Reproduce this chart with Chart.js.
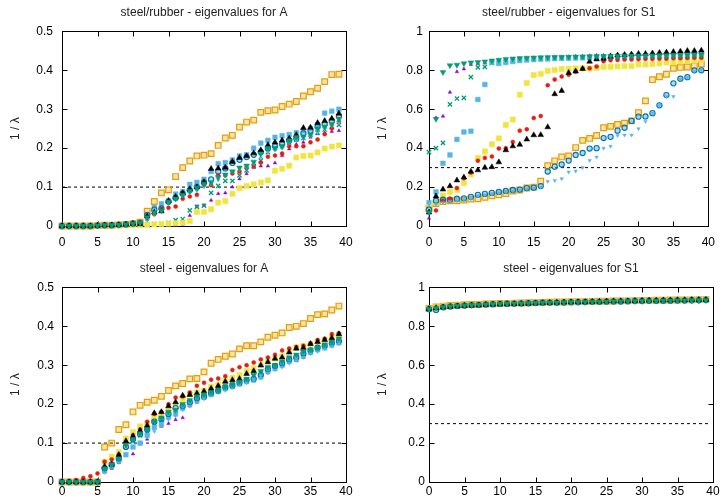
<!DOCTYPE html>
<html>
<head>
<meta charset="utf-8">
<script src="https://cdn.jsdelivr.net/npm/chart.js@4"></script>
<style>
  body { margin: 0; background: #fff; }
  #painel { position: relative; width: 724px; height: 500px; }
  canvas { position: absolute; }
</style>
</head>
<body>
<div id="painel">
  <canvas id="rubA" width="362" height="250" style="left:0;top:0"></canvas>
  <canvas id="rubS1" width="362" height="250" style="left:362px;top:0"></canvas>
  <canvas id="steelA" width="362" height="244" style="left:0;top:256px"></canvas>
  <canvas id="steelS1" width="362" height="244" style="left:362px;top:256px"></canvas>
</div>
<script>
// --- Dados ---
// Eixo x: índice do autovalor 0..39
const indices = Array.from({ length: 40 }, (_, i) => i);
const ticksX = [0, 5, 10, 15, 20, 25, 30, 35, 40];
const ticksA = [0, 0.1, 0.2, 0.3, 0.4, 0.5];
const ticksS1 = [0, 0.2, 0.4, 0.6, 0.8, 1];
const limiteA = 0.1;
const limiteS1 = 0.3;
const limiteX = [0, 39.5];

// steel/rubber - A
const rubA_roxo = [0,0,0,0,0,0.001,0.001,0.002,0.002,0.002,0.003,0.003,0.003,0.003,0.003,0.004,0.004,0.004,0.027,0.05,0.053,0.066,0.083,0.085,0.1,0.121,0.134,0.15,0.154,0.154,0.162,0.181,0.198,0.21,0.215,0.228,0.237,0.239,0.243,0.245];
const rubA_verdeX = [0,0,0,0,0,0.001,0.001,0.002,0.002,0.003,0.004,0.004,0.004,0.005,0.005,0.008,0.015,0.018,0.04,0.049,0.052,0.085,0.103,0.116,0.116,0.13,0.143,0.154,0.168,0.19,0.2,0.205,0.215,0.222,0.226,0.235,0.24,0.248,0.255,0.26];
const rubA_celeste = [0,0,0,0,0,0.001,0.002,0.002,0.003,0.004,0.006,0.008,0.03,0.05,0.057,0.065,0.082,0.088,0.107,0.112,0.12,0.14,0.16,0.163,0.17,0.18,0.183,0.2,0.213,0.22,0.228,0.232,0.235,0.24,0.245,0.25,0.26,0.29,0.295,0.3];
const rubA_laranja = [0,0,0,0,0,0.001,0.002,0.002,0.003,0.004,0.006,0.01,0.038,0.063,0.085,0.093,0.127,0.15,0.167,0.18,0.182,0.186,0.207,0.226,0.233,0.254,0.267,0.272,0.292,0.296,0.298,0.307,0.313,0.32,0.334,0.345,0.354,0.371,0.389,0.39];
const rubA_amarelo = [0,0,0,0,0,0,0.001,0.001,0.001,0.002,0.002,0.002,0.003,0.004,0.005,0.006,0.007,0.008,0.013,0.036,0.036,0.043,0.06,0.064,0.083,0.097,0.103,0.107,0.112,0.117,0.142,0.147,0.155,0.176,0.18,0.181,0.189,0.199,0.204,0.207];
const rubA_azul = [0,0,0,0,0,0.001,0.002,0.002,0.003,0.004,0.006,0.008,0.028,0.042,0.045,0.062,0.072,0.083,0.092,0.1,0.112,0.12,0.14,0.148,0.162,0.17,0.177,0.183,0.19,0.2,0.205,0.21,0.22,0.225,0.238,0.245,0.255,0.262,0.27,0.282];
const rubA_vermelho = [0,0,0,0,0,0.001,0.002,0.002,0.003,0.004,0.006,0.008,0.018,0.03,0.045,0.047,0.05,0.07,0.076,0.08,0.105,0.105,0.13,0.13,0.135,0.14,0.15,0.155,0.163,0.178,0.181,0.186,0.205,0.205,0.205,0.215,0.222,0.236,0.251,0.268];
const rubA_preto = [0,0,0,0,0,0.001,0.002,0.002,0.003,0.004,0.006,0.005,0.025,0.035,0.038,0.065,0.075,0.085,0.095,0.1,0.113,0.147,0.148,0.15,0.165,0.175,0.18,0.187,0.195,0.208,0.215,0.22,0.225,0.234,0.252,0.253,0.265,0.27,0.276,0.289];
const rubA_claro = [0,0,0,0,0,0.001,0.002,0.002,0.003,0.004,0.005,0.007,0.015,0.03,0.04,0.06,0.07,0.078,0.085,0.09,0.1,0.108,0.118,0.13,0.14,0.145,0.15,0.16,0.175,0.19,0.195,0.2,0.215,0.22,0.225,0.23,0.24,0.25,0.258,0.265];
const rubA_verde = [0,0,0,0,0,0.001,0.002,0.002,0.003,0.004,0.006,0.008,0.022,0.035,0.04,0.062,0.07,0.08,0.09,0.098,0.108,0.112,0.125,0.132,0.14,0.15,0.155,0.165,0.185,0.2,0.2,0.205,0.22,0.228,0.23,0.235,0.25,0.255,0.262,0.275];

// steel/rubber - S1
const rubS1_roxo = [0.04,0.556,0.564,0.687,0.793,0.807,0.83,0.835,0.84,0.845,0.85,0.853,0.857,0.86,0.862,0.864,0.866,0.867,0.868,0.869,0.87,0.872,0.873,0.875,0.877,0.878,0.88,0.881,0.883,0.885,0.886,0.887,0.888,0.89,0.891,0.893,0.895,0.897,0.898,0.9];
const rubS1_verdeX = [0.38,0.4,0.427,0.625,0.655,0.658,0.765,0.815,0.818,0.838,0.84,0.845,0.85,0.855,0.858,0.86,0.862,0.863,0.864,0.865,0.866,0.867,0.868,0.869,0.87,0.871,0.872,0.873,0.874,0.875,0.876,0.876,0.877,0.878,0.878,0.879,0.88,0.88,0.881,0.882];
const rubS1_celeste = [0.12,0.175,0.322,0.365,0.445,0.483,0.487,0.65,0.727,0.84,0.835,0.84,0.845,0.85,0.853,0.855,0.857,0.858,0.86,0.861,0.862,0.863,0.864,0.865,0.866,0.867,0.868,0.869,0.87,0.87,0.871,0.872,0.872,0.873,0.873,0.874,0.874,0.875,0.875,0.876];
const rubS1_laranja = [0.09,0.115,0.125,0.13,0.13,0.133,0.138,0.14,0.147,0.155,0.16,0.167,0.18,0.185,0.195,0.2,0.23,0.31,0.335,0.355,0.36,0.403,0.44,0.45,0.465,0.505,0.512,0.522,0.528,0.54,0.582,0.643,0.752,0.767,0.78,0.81,0.815,0.817,0.823,0.832];
const rubS1_amarelo = [0.1,0.12,0.157,0.175,0.185,0.22,0.265,0.35,0.383,0.42,0.45,0.52,0.547,0.675,0.735,0.775,0.782,0.797,0.802,0.807,0.808,0.81,0.81,0.81,0.812,0.818,0.818,0.82,0.822,0.822,0.83,0.83,0.832,0.835,0.84,0.84,0.845,0.85,0.85,0.855];
const rubS1_azul = [0.085,0.13,0.135,0.135,0.14,0.142,0.15,0.16,0.165,0.17,0.175,0.18,0.185,0.187,0.195,0.197,0.205,0.28,0.305,0.316,0.336,0.365,0.375,0.398,0.4,0.452,0.458,0.49,0.505,0.54,0.562,0.563,0.58,0.62,0.673,0.733,0.757,0.765,0.8,0.8];
const rubS1_vermelho = [0.07,0.08,0.13,0.14,0.195,0.245,0.275,0.335,0.35,0.357,0.398,0.4,0.432,0.49,0.497,0.555,0.565,0.723,0.753,0.768,0.777,0.793,0.808,0.81,0.82,0.847,0.852,0.853,0.855,0.855,0.857,0.858,0.858,0.86,0.86,0.862,0.862,0.863,0.864,0.865];
const rubS1_preto = [0.07,0.153,0.188,0.205,0.235,0.25,0.28,0.287,0.3,0.303,0.328,0.39,0.41,0.418,0.445,0.467,0.468,0.508,0.678,0.695,0.787,0.795,0.808,0.845,0.857,0.86,0.87,0.877,0.88,0.882,0.885,0.885,0.888,0.89,0.892,0.895,0.897,0.9,0.9,0.902];
const rubS1_claro = [0.11,0.11,0.12,0.125,0.13,0.135,0.14,0.155,0.16,0.165,0.17,0.175,0.18,0.185,0.19,0.195,0.2,0.229,0.234,0.243,0.277,0.282,0.3,0.337,0.354,0.4,0.41,0.465,0.467,0.467,0.5,0.537,0.58,0.62,0.665,0.665,0.755,0.765,0.795,0.8];
const rubS1_verde = [0.07,0.55,0.79,0.825,0.828,0.835,0.84,0.842,0.845,0.85,0.853,0.857,0.86,0.862,0.864,0.865,0.866,0.867,0.868,0.868,0.869,0.87,0.87,0.871,0.872,0.872,0.873,0.873,0.874,0.875,0.875,0.876,0.876,0.877,0.877,0.878,0.878,0.879,0.879,0.88];

// steel - A
const steelA_roxo = [0,0,0,0,0,0,0.025,0.035,0.05,0.07,0.072,0.098,0.11,0.14,0.143,0.15,0.16,0.165,0.195,0.205,0.215,0.225,0.23,0.24,0.245,0.252,0.258,0.265,0.27,0.28,0.29,0.3,0.307,0.312,0.32,0.33,0.34,0.343,0.35,0.355];
const steelA_verdeX = [0,0,0,0,0,0,0.03,0.045,0.06,0.09,0.105,0.12,0.13,0.15,0.16,0.175,0.185,0.198,0.205,0.215,0.222,0.23,0.237,0.245,0.25,0.258,0.263,0.272,0.28,0.292,0.3,0.307,0.317,0.323,0.332,0.338,0.344,0.35,0.357,0.365];
const steelA_celeste = [0,0,0,0,0,0,0.03,0.04,0.055,0.07,0.09,0.1,0.12,0.14,0.148,0.167,0.175,0.19,0.2,0.21,0.218,0.225,0.233,0.24,0.245,0.252,0.258,0.262,0.27,0.285,0.292,0.3,0.31,0.315,0.325,0.333,0.34,0.345,0.352,0.358];
const steelA_laranja = [0,0,0,0,0,0,0.09,0.1,0.135,0.147,0.18,0.197,0.205,0.21,0.22,0.235,0.247,0.253,0.265,0.266,0.283,0.305,0.315,0.323,0.329,0.342,0.35,0.35,0.36,0.372,0.377,0.383,0.397,0.4,0.407,0.42,0.43,0.432,0.442,0.452];
const steelA_amarelo = [0,0,0,0,0,0,0.052,0.065,0.077,0.112,0.128,0.143,0.15,0.165,0.175,0.185,0.2,0.212,0.225,0.23,0.235,0.245,0.25,0.26,0.268,0.275,0.285,0.292,0.3,0.31,0.317,0.323,0.335,0.346,0.35,0.354,0.36,0.365,0.372,0.378];
const steelA_azul = [0,0,0,0,0,0,0.035,0.045,0.06,0.09,0.11,0.123,0.135,0.155,0.162,0.175,0.19,0.195,0.205,0.215,0.22,0.228,0.235,0.243,0.248,0.255,0.262,0.265,0.275,0.29,0.298,0.305,0.315,0.32,0.33,0.338,0.345,0.35,0.357,0.362];
const steelA_vermelho = [0,0,0.005,0.01,0.015,0.022,0.052,0.058,0.07,0.1,0.12,0.135,0.155,0.175,0.18,0.2,0.217,0.22,0.23,0.247,0.255,0.263,0.266,0.272,0.288,0.295,0.3,0.307,0.315,0.32,0.327,0.338,0.343,0.347,0.35,0.356,0.365,0.368,0.38,0.382];
const steelA_preto = [0,0,0,0,0,0,0.04,0.045,0.07,0.105,0.118,0.132,0.145,0.177,0.18,0.195,0.205,0.222,0.224,0.228,0.233,0.24,0.247,0.258,0.262,0.265,0.278,0.285,0.3,0.308,0.317,0.32,0.333,0.343,0.345,0.355,0.36,0.365,0.37,0.38];
const steelA_claro = [0,0,0,0,0,0,0.025,0.04,0.05,0.07,0.09,0.1,0.115,0.13,0.145,0.16,0.17,0.185,0.195,0.205,0.213,0.222,0.23,0.235,0.243,0.25,0.255,0.26,0.267,0.28,0.288,0.295,0.305,0.312,0.32,0.33,0.335,0.342,0.348,0.355];
const steelA_verde = [0,0,0,0,0,0,0.035,0.045,0.06,0.095,0.11,0.125,0.135,0.155,0.165,0.18,0.185,0.2,0.21,0.22,0.225,0.23,0.235,0.245,0.25,0.258,0.265,0.275,0.285,0.295,0.3,0.31,0.32,0.327,0.335,0.34,0.345,0.353,0.36,0.368];

// steel - S1
const steelS1_roxo = [0.89,0.896,0.9,0.903,0.906,0.908,0.91,0.911,0.913,0.915,0.916,0.917,0.918,0.918,0.919,0.92,0.921,0.922,0.923,0.924,0.924,0.925,0.926,0.926,0.927,0.928,0.928,0.929,0.93,0.93,0.931,0.931,0.932,0.932,0.933,0.933,0.934,0.934,0.935,0.935];
const steelS1_verdeX = [0.89,0.895,0.9,0.903,0.905,0.907,0.909,0.911,0.913,0.914,0.916,0.917,0.918,0.918,0.919,0.92,0.921,0.922,0.923,0.923,0.924,0.925,0.925,0.926,0.927,0.927,0.928,0.929,0.929,0.93,0.93,0.931,0.931,0.932,0.932,0.933,0.933,0.934,0.934,0.935];
const steelS1_celeste = [0.888,0.893,0.899,0.902,0.905,0.907,0.909,0.91,0.912,0.914,0.915,0.916,0.917,0.918,0.919,0.92,0.921,0.921,0.922,0.923,0.924,0.924,0.925,0.926,0.926,0.927,0.928,0.928,0.929,0.93,0.93,0.931,0.931,0.932,0.932,0.933,0.933,0.934,0.934,0.934];
const steelS1_laranja = [0.892,0.9,0.904,0.907,0.909,0.911,0.912,0.913,0.915,0.916,0.917,0.918,0.919,0.92,0.921,0.922,0.923,0.924,0.925,0.925,0.926,0.927,0.927,0.928,0.929,0.929,0.93,0.931,0.931,0.932,0.932,0.933,0.934,0.934,0.935,0.935,0.936,0.936,0.937,0.937];
const steelS1_amarelo = [0.891,0.898,0.902,0.905,0.908,0.91,0.911,0.912,0.914,0.915,0.916,0.917,0.918,0.919,0.92,0.921,0.922,0.923,0.924,0.924,0.925,0.926,0.926,0.927,0.928,0.928,0.929,0.93,0.93,0.931,0.931,0.932,0.933,0.933,0.934,0.934,0.935,0.935,0.936,0.936];
const steelS1_azul = [0.888,0.884,0.898,0.902,0.905,0.907,0.909,0.91,0.912,0.914,0.915,0.916,0.917,0.918,0.919,0.92,0.921,0.922,0.922,0.923,0.924,0.924,0.925,0.926,0.926,0.927,0.928,0.928,0.929,0.93,0.93,0.931,0.931,0.932,0.932,0.933,0.933,0.934,0.934,0.935];
const steelS1_vermelho = [0.89,0.896,0.9,0.903,0.906,0.908,0.91,0.911,0.913,0.915,0.916,0.917,0.918,0.919,0.92,0.921,0.922,0.922,0.923,0.924,0.925,0.925,0.926,0.927,0.927,0.928,0.929,0.929,0.93,0.931,0.931,0.932,0.932,0.933,0.933,0.934,0.934,0.935,0.935,0.936];
const steelS1_preto = [0.889,0.894,0.897,0.9,0.903,0.905,0.907,0.908,0.91,0.912,0.913,0.914,0.915,0.916,0.917,0.918,0.92,0.921,0.922,0.923,0.924,0.925,0.925,0.926,0.927,0.928,0.929,0.93,0.93,0.931,0.932,0.933,0.933,0.934,0.934,0.935,0.935,0.936,0.936,0.937];
const steelS1_claro = [0.887,0.89,0.897,0.901,0.904,0.906,0.908,0.91,0.911,0.913,0.914,0.915,0.916,0.917,0.918,0.919,0.92,0.921,0.922,0.923,0.923,0.924,0.925,0.925,0.926,0.927,0.927,0.928,0.929,0.929,0.93,0.93,0.931,0.931,0.932,0.932,0.933,0.933,0.934,0.934];
const steelS1_verde = [0.889,0.895,0.899,0.903,0.905,0.907,0.909,0.91,0.912,0.914,0.915,0.916,0.917,0.918,0.919,0.92,0.921,0.922,0.922,0.923,0.924,0.924,0.925,0.926,0.926,0.927,0.928,0.928,0.929,0.93,0.93,0.931,0.931,0.932,0.932,0.933,0.933,0.934,0.934,0.935];

// --- Estilo de cada série (cor e símbolo, na ordem do gnuplot) ---
const estilos = [
  { cor: '#9400D3', fundo: '#9400D3', simbolo: 'triangle', raio: 2, borda: 0.5, rot: 0 },
  { cor: '#009E73', fundo: 'rgba(0,0,0,0)', simbolo: 'crossRot', raio: 3, borda: 1.3, rot: 0 },
  { cor: '#56B4E9', fundo: '#56B4E9', simbolo: 'rect', raio: 3.3, borda: 0.5, rot: 0 },
  { cor: '#E69F00', fundo: 'rgba(230,159,0,0.3)', simbolo: 'rect', raio: 4, borda: 1.2, rot: 0 },
  { cor: '#F0E442', fundo: '#F0E442', simbolo: 'rect', raio: 3.7, borda: 0.5, rot: 0 },
  { cor: '#0072B2', fundo: 'rgba(86,180,233,0.5)', simbolo: 'circle', raio: 2.6, borda: 1.1, rot: 0 },
  { cor: '#E51E10', fundo: '#E51E10', simbolo: 'circle', raio: 2, borda: 0.5, rot: 0 },
  { cor: '#000000', fundo: '#000000', simbolo: 'triangle', raio: 3.3, borda: 0.5, rot: 0 },
  { cor: '#56B4E9', fundo: '#56B4E9', simbolo: 'triangle', raio: 2, borda: 0.5, rot: 180 },
  { cor: '#009E73', fundo: '#009E73', simbolo: 'triangle', raio: 3.3, borda: 0.5, rot: 180 }
];

const fonte = "'Liberation Sans', Arial, sans-serif";

// Plugin que desenha a moldura e os tracinhos internos (estilo gnuplot)
const molduraPlugin = {
  id: 'moldura',
  beforeDatasetsDraw(chart) {
    const { ctx, chartArea: a, scales: { x, y } } = chart;
    const L = Math.round(a.left) + 0.5, R = Math.round(a.right) + 0.5;
    const T = Math.round(a.top) + 0.5, B = Math.round(a.bottom) + 0.5;
    ctx.save();
    ctx.strokeStyle = '#000';
    ctx.lineWidth = 1;
    ctx.strokeRect(L, T, R - L, B - T);
    ctx.beginPath();
    x.ticks.forEach(t => {
      const px = Math.round(x.getPixelForValue(t.value)) + 0.5;
      ctx.moveTo(px, B); ctx.lineTo(px, B - 5);
      ctx.moveTo(px, T); ctx.lineTo(px, T + 5);
    });
    y.ticks.forEach(t => {
      const py = Math.round(y.getPixelForValue(t.value)) + 0.5;
      ctx.moveTo(L, py); ctx.lineTo(L + 5, py);
      ctx.moveTo(R, py); ctx.lineTo(R - 5, py);
    });
    ctx.stroke();
    ctx.restore();
  }
};

/**
 * Cria um dos quatro painéis.
 */
function criarGrafico(id, titulo, series, ticksY, limite, cfg) {
  const datasets = series.map((valores, i) => ({
    label: 'serie ' + (i + 1),
    data: indices.map(k => ({ x: k, y: valores[k] })),
    showLine: false,
    pointStyle: estilos[i].simbolo,
    pointRadius: estilos[i].raio,
    pointRotation: estilos[i].rot,
    pointBorderWidth: estilos[i].borda,
    borderColor: estilos[i].cor,
    backgroundColor: estilos[i].fundo,
    pointBorderColor: estilos[i].cor,
    pointBackgroundColor: estilos[i].fundo,
    order: series.length - i,
    clip: false
  }));

  // linha tracejada de referência
  datasets.push({
    type: 'line',
    label: 'limite',
    data: limiteX.map(v => ({ x: v, y: limite })),
    borderColor: '#000',
    borderWidth: 1,
    borderDash: [3, 3],
    pointRadius: 0,
    order: 20
  });

  return new Chart(document.getElementById(id), {
    type: 'scatter',
    data: { datasets },
    options: {
      responsive: false,
      animation: false,
      layout: { padding: { left: 0, right: cfg.direita, top: 0, bottom: 0 } },
      plugins: {
        legend: { display: false },
        tooltip: { enabled: false },
        title: {
          display: true,
          text: titulo,
          fullSize: false,
          color: '#222',
          font: { family: fonte, size: 12, weight: 'normal' },
          padding: { top: 5, bottom: 12 }
        }
      },
      scales: {
        x: {
          type: 'linear',
          min: ticksX[0],
          max: ticksX[ticksX.length - 1],
          afterBuildTicks: s => { s.ticks = ticksX.map(v => ({ value: v })); },
          afterFit: s => { s.height = cfg.alturaX; },
          grid: { display: false, drawTicks: false },
          border: { display: false },
          ticks: { color: '#000', padding: cfg.padX, font: { family: fonte, size: 12 }, callback: v => String(v) }
        },
        y: {
          min: ticksY[0],
          max: ticksY[ticksY.length - 1],
          afterBuildTicks: s => { s.ticks = ticksY.map(v => ({ value: v })); },
          afterFit: s => { s.width = cfg.larguraY; },
          grid: { display: false, drawTicks: false },
          border: { display: false },
          ticks: { color: '#000', padding: cfg.padY, font: { family: fonte, size: 12 }, callback: v => String(+v.toFixed(1)) },
          title: {
            display: true,
            text: '1 / λ',
            color: '#222',
            font: { family: fonte, size: 12 },
            padding: { top: cfg.padTitulo, bottom: 0 }
          }
        }
      }
    },
    plugins: [molduraPlugin]
  });
}

// --- Inicialização ---
criarGrafico('rubA', 'steel/rubber - eigenvalues for A',
  [rubA_roxo, rubA_verdeX, rubA_celeste, rubA_laranja, rubA_amarelo, rubA_azul, rubA_vermelho, rubA_preto, rubA_claro, rubA_verde],
  ticksA, limiteA, { direita: 16, larguraY: 62, alturaX: 24, padX: 9, padY: 9, padTitulo: 8 });

criarGrafico('rubS1', 'steel/rubber - eigenvalues for S1',
  [rubS1_roxo, rubS1_verdeX, rubS1_celeste, rubS1_laranja, rubS1_amarelo, rubS1_azul, rubS1_vermelho, rubS1_preto, rubS1_claro, rubS1_verde],
  ticksS1, limiteS1, { direita: 11, larguraY: 67, alturaX: 24, padX: 9, padY: 6, padTitulo: 13 });

criarGrafico('steelA', 'steel - eigenvalues for A',
  [steelA_roxo, steelA_verdeX, steelA_celeste, steelA_laranja, steelA_amarelo, steelA_azul, steelA_vermelho, steelA_preto, steelA_claro, steelA_verde],
  ticksA, limiteA, { direita: 16, larguraY: 62, alturaX: 18, padX: 2, padY: 8, padTitulo: 8 });

criarGrafico('steelS1', 'steel - eigenvalues for S1',
  [steelS1_roxo, steelS1_verdeX, steelS1_celeste, steelS1_laranja, steelS1_amarelo, steelS1_azul, steelS1_vermelho, steelS1_preto, steelS1_claro, steelS1_verde],
  ticksS1, limiteS1, { direita: 11, larguraY: 67, alturaX: 18, padX: 2, padY: 4, padTitulo: 13 });
</script>
</body>
</html>
